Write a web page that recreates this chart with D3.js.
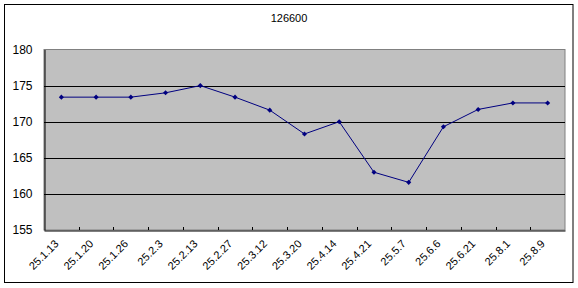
<!DOCTYPE html>
<html>
<head>
<meta charset="utf-8">
<script src="https://cdn.jsdelivr.net/npm/d3@7"></script>
<style>
  body { margin: 0; background: #fff; }
  text { font-family: Arial, "Liberation Sans", sans-serif; }
</style>
</head>
<body>
<svg id="chart" width="578" height="288"></svg>
<script>
const title = "126600"
const dates = ["25.1.13","25.1.20","25.1.26","25.2.3","25.2.13","25.2.27","25.3.12","25.3.20",
               "25.4.14","25.4.21","25.5.7","25.6.6","25.6.21","25.8.1","25.8.9"]
const values = [173.4,173.4,173.4,174.0,175.0,173.4,171.6,168.3,170.0,163.0,161.6,169.3,171.7,172.6,172.6]
const yTicks = [155,160,165,170,175,180]

const svg = d3.select("#chart")
const m = {left: 44, right: 565, top: 49.5, bottom: 230}

// marco exterior
svg.append("rect").attr("x", 4.5).attr("y", 4.5).attr("width", 568.5).attr("height", 278)
  .attr("fill", "#fff").attr("stroke", "#000").attr("stroke-width", 1)

svg.append("text").attr("x", 289).attr("y", 22).attr("text-anchor", "middle")
  .attr("font-size", 11).text(title)

const x = d3.scaleBand().domain(dates).range([m.left, m.right])
const y = d3.scaleLinear().domain([155, 180]).range([m.bottom, m.top])

// fondo del área de trazado con sombra gris arriba/derecha
svg.append("rect").attr("x", m.left).attr("y", m.top).attr("width", m.right - m.left)
  .attr("height", m.bottom - m.top).attr("fill", "#c0c0c0")
  .attr("stroke", "#808080").attr("stroke-width", 1)

// líneas de la rejilla
svg.append("g").selectAll("line").data(yTicks.filter(d => d > 155 && d < 180)).join("line")
  .attr("x1", m.left).attr("x2", m.right)
  .attr("y1", d => Math.round(y(d)) + 0.5).attr("y2", d => Math.round(y(d)) + 0.5)
  .attr("stroke", "#000")

// eje Y
const yAxis = svg.append("g").attr("transform", `translate(${m.left + 0.5},0)`)
  .call(d3.axisLeft(y).tickValues(yTicks).tickSize(0).tickPadding(12))
yAxis.select(".domain").attr("stroke", "#000")
yAxis.selectAll("text").attr("font-size", 12).attr("fill", "#000").attr("font-family", "Arial")

// eje X con marcas hacia dentro entre categorías
const xAxis = svg.append("g").attr("transform", `translate(0,${m.bottom + 0.5})`)
  .call(d3.axisBottom(x).tickSize(0).tickPadding(0))
xAxis.select(".domain").attr("stroke", "#000")
xAxis.selectAll("line").remove()
svg.append("g").selectAll("line").data(dates.slice(1)).join("line")
  .attr("x1", d => Math.round(x(d)) + 0.5).attr("x2", d => Math.round(x(d)) + 0.5)
  .attr("y1", m.bottom - 3).attr("y2", m.bottom)
  .attr("stroke", "#000")
xAxis.selectAll("text")
  .attr("font-size", 11).attr("fill", "#000").attr("font-family", "Arial")
  .attr("text-anchor", "end").attr("dy", null).attr("y", 0)
  .attr("transform", "translate(-2,14) rotate(-45)")

// línea y marcadores
const cx = (d, i) => x(dates[i]) + x.bandwidth() / 2
svg.append("path").datum(values)
  .attr("d", d3.line().x(cx).y(d => y(d)))
  .attr("fill", "none").attr("stroke", "#000080").attr("stroke-width", 1)

svg.append("g").selectAll("path").data(values).join("path")
  .attr("transform", (d, i) => `translate(${cx(d, i)},${y(d)}) rotate(45)`)
  .attr("d", d3.symbol(d3.symbolSquare, 13))
  .attr("fill", "#000080")
</script>
</body>
</html>
